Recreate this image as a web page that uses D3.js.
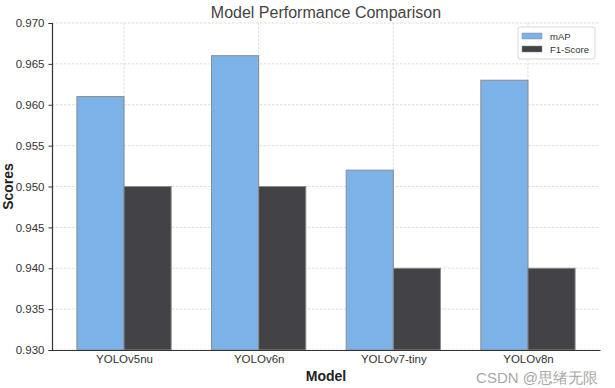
<!DOCTYPE html>
<html><head><meta charset="utf-8">
<script src="https://cdn.jsdelivr.net/npm/d3@7/dist/d3.min.js"></script>
<style>body{margin:0;background:#fff}svg{display:block}text{font-family:"Liberation Sans",Arial,sans-serif}</style>
</head><body>
<script>
const categories = ["YOLOv5nu","YOLOv6n","YOLOv7-tiny","YOLOv8n"];
const mAP = [0.961,0.966,0.952,0.963];
const f1 = [0.950,0.950,0.940,0.940];
const seriesNames = ["mAP","F1-Score"];
const yTicks = [0.930,0.935,0.940,0.945,0.950,0.955,0.960,0.965,0.970];
const colors = ["#7bb3e9","#434247"];

const W=615,H=388;
const m={l:52,r:15,t:23,b:38};
const svg=d3.select("body").append("svg").attr("width",W).attr("height",H);
const barW=0.35;
const x=d3.scaleLinear().domain([-barW-0.185,categories.length-1+barW+0.185]).range([m.l,W-m.r]);
const y=d3.scaleLinear().domain([0.930,0.970]).range([H-m.b-0,m.t]);

// grid
const g=svg.append("g");
g.selectAll(".hg").data(yTicks).join("line")
 .attr("x1",m.l).attr("x2",W-m.r).attr("y1",d=>y(d)).attr("y2",d=>y(d))
 .attr("stroke","#d4d4d4").attr("stroke-width",0.8).attr("stroke-dasharray","2.5,1.5");
g.selectAll(".vg").data(categories).join("line")
 .attr("x1",(d,i)=>x(i)).attr("x2",(d,i)=>x(i)).attr("y1",m.t).attr("y2",H-m.b)
 .attr("stroke","#d4d4d4").attr("stroke-width",0.8).attr("stroke-dasharray","2.5,1.5");

// bars
const series=[mAP,f1];
series.forEach((vals,s)=>{
  svg.append("g").selectAll("rect").data(vals).join("rect")
   .attr("x",(d,i)=>x(i+(s===0?-barW:0)))
   .attr("width",x(barW)-x(0))
   .attr("y",d=>y(d)).attr("height",d=>y(0.930)-y(d))
   .attr("fill",colors[s]).attr("stroke","#8a8a8a").attr("stroke-width",1);
});

// axes
const yAxis=d3.axisLeft(y).tickValues(yTicks).tickFormat(d3.format(".3f")).tickSize(3.5);
const ya=svg.append("g").attr("transform",`translate(${m.l},0)`).call(yAxis);
ya.select(".domain").attr("stroke","#333").attr("stroke-width",1.2);
ya.selectAll("text").attr("font-size",11.5).attr("fill","#333").attr("dx",-1);
ya.selectAll(".tick line").attr("stroke","#333");
const xAxis=d3.axisBottom(x).tickValues(d3.range(categories.length)).tickFormat(i=>categories[i]).tickSize(0);
const xa=svg.append("g").attr("transform",`translate(0,${H-m.b})`).call(xAxis);
xa.select(".domain").attr("stroke","#333").attr("stroke-width",1.2);
xa.selectAll("text").attr("font-size",11.5).attr("fill","#333").attr("dy","0.9em");

// titles
svg.append("text").attr("x",(m.l+W-m.r)/2).attr("y",18).attr("text-anchor","middle")
 .attr("font-size",16).attr("fill","#444").text("Model Performance Comparison");
svg.append("text").attr("x",(m.l+W-m.r)/2).attr("y",381).attr("text-anchor","middle")
 .attr("font-size",14).attr("font-weight","bold").attr("fill","#222").text("Model");
svg.append("text").attr("transform",`translate(13,${(m.t+H-m.b)/2}) rotate(-90)`).attr("text-anchor","middle")
 .attr("font-size",14).attr("font-weight","bold").attr("fill","#222").text("Scores");

// legend
const lg=svg.append("g").attr("transform","translate(518,27)");
lg.append("rect").attr("width",77).attr("height",32).attr("rx",2).attr("fill","#fff").attr("fill-opacity",0.85)
 .attr("stroke","#d8d8d8");
seriesNames.forEach((n,i)=>{
  lg.append("rect").attr("x",4).attr("y",6+i*13).attr("width",20).attr("height",6).attr("fill",colors[i]).attr("stroke","#8a8a8a").attr("stroke-width",0.5);
  lg.append("text").attr("x",32).attr("y",12.5+i*13).attr("font-size",9.5).attr("fill","#333").text(n);
});

// watermark
svg.append("text").attr("x",598).attr("y",383).attr("text-anchor","end").attr("font-size",15)
 .attr("fill","#999").attr("font-family","'Noto Sans CJK SC',sans-serif").attr("opacity",0.85).text("CSDN @思绪无限");
</script>
</body></html>
